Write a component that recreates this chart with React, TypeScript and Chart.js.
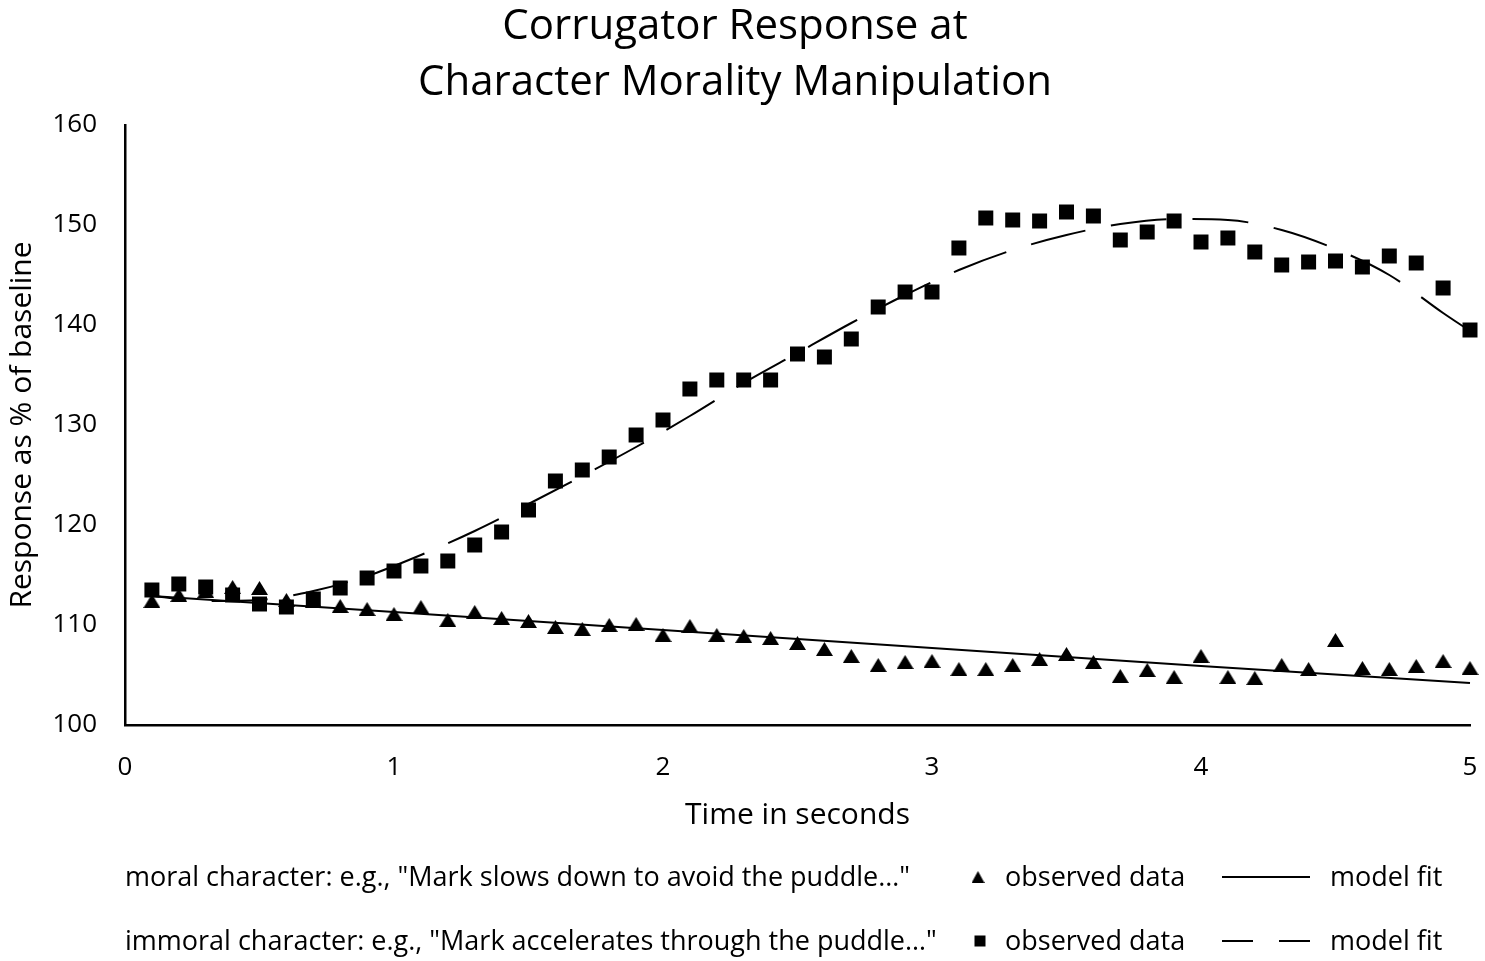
import { useEffect, useRef } from "react"
import Chart from "chart.js/auto"

// observed samples, every 0.1 s
const timeSec = [
  0.1, 0.2, 0.3, 0.4, 0.5, 0.6, 0.7, 0.8, 0.9, 1.0,
  1.1, 1.2, 1.3, 1.4, 1.5, 1.6, 1.7, 1.8, 1.9, 2.0,
  2.1, 2.2, 2.3, 2.4, 2.5, 2.6, 2.7, 2.8, 2.9, 3.0,
  3.1, 3.2, 3.3, 3.4, 3.5, 3.6, 3.7, 3.8, 3.9, 4.0,
  4.1, 4.2, 4.3, 4.4, 4.5, 4.6, 4.7, 4.8, 4.9, 5.0,
]

const moralObserved = [
  112.4, 113.0, 113.4, 113.8, 113.7, 112.5, 112.4, 111.9, 111.6, 111.1,
  111.8, 110.5, 111.3, 110.7, 110.4, 109.8, 109.6, 110.0, 110.1, 109.0,
  109.9, 109.0, 108.9, 108.7, 108.2, 107.6, 106.9, 106.0, 106.3, 106.4,
  105.6, 105.6, 106.0, 106.6, 107.1, 106.3, 104.9, 105.5, 104.8, 106.9,
  104.8, 104.7, 106.0, 105.6, 108.5, 105.7, 105.6, 105.9, 106.4, 105.7,
]

const immoralObserved = [
  113.5, 114.1, 113.8, 113.0, 112.1, 111.8, 112.6, 113.7, 114.7, 115.4,
  115.9, 116.4, 118.0, 119.3, 121.5, 124.4, 125.5, 126.8, 129.0, 130.5,
  133.6, 134.5, 134.5, 134.5, 137.1, 136.8, 138.6, 141.8, 143.3, 143.3,
  147.7, 150.7, 150.5, 150.4, 151.3, 150.9, 148.5, 149.3, 150.4, 148.3,
  148.7, 147.3, 146.0, 146.3, 146.4, 145.8, 146.9, 146.2, 143.7, 139.5,
]

// model fits
const moralFitTime = [0.1, 1, 2, 3, 4, 5]
const moralFit = [112.9, 111.3, 109.5, 107.7, 105.9, 104.2]

const immoralFitTime = [
  0.1, 0.3, 0.5, 0.7, 0.9, 1.1, 1.3, 1.5, 1.7, 1.9, 2.1, 2.3, 2.5,
  2.7, 2.9, 3.1, 3.3, 3.5, 3.7, 3.9, 4.1, 4.3, 4.5, 4.7, 4.9, 5.0,
]
const immoralFit = [
  112.9, 112.4, 112.5, 113.4, 114.9, 117.0, 119.4, 122.1, 124.9, 127.8, 130.9, 134.2, 137.2,
  140.2, 143.0, 145.5, 147.5, 149.0, 150.1, 150.6, 150.5, 149.5, 147.6, 145.0, 141.2, 139.4,
]

const xTickValues = [0, 1, 2, 3, 4, 5]
const yTickValues = [100, 110, 120, 130, 140, 150, 160]

const titleLines = ["Corrugator Response at", "Character Morality Manipulation"]
const legendGroups = [
  'moral character: e.g., "Mark slows down to avoid the puddle…"',
  'immoral character: e.g., "Mark accelerates through the puddle…"',
]
const observedLabel = "observed data"
const fitLabel = "model fit"

const FONT = "'Open Sans', sans-serif"

function makeTriangle(w: number, h: number) {
  const c = document.createElement("canvas")
  c.width = w
  c.height = h
  const g = c.getContext("2d")!
  g.fillStyle = "#000"
  g.beginPath()
  g.moveTo(w / 2, 0)
  g.lineTo(w, h)
  g.lineTo(0, h)
  g.closePath()
  g.fill()
  return c
}

export default function App() {
  const canvasRef = useRef<HTMLCanvasElement>(null)

  useEffect(() => {
    document.body.style.margin = "0"
    if (!canvasRef.current) return

    const tri = makeTriangle(17, 14)
    const legendTri = makeTriangle(13, 12)

    const overlay = {
      id: "overlay",
      afterDraw(chart: Chart) {
        const ctx = chart.ctx
        ctx.save()
        ctx.fillStyle = "#000"
        ctx.strokeStyle = "#000"

        // title
        ctx.textAlign = "center"
        ctx.textBaseline = "alphabetic"
        ctx.font = `42px ${FONT}`
        titleLines.forEach((t, i) => ctx.fillText(t, 735, 39 + i * 56))

        // legend rows
        ctx.font = `27px ${FONT}`
        ctx.textAlign = "left"
        legendGroups.forEach((g, i) => {
          const y = 886 + i * 64
          ctx.fillText(g, 125, y)
          ctx.fillText(observedLabel, 1005, y)
          ctx.fillText(fitLabel, 1330, y)
          const my = y - 9
          if (i === 0) {
            ctx.drawImage(legendTri, 978 - 6.5, my - 6, 13, 12)
            ctx.lineWidth = 2
            ctx.beginPath()
            ctx.moveTo(1222, my)
            ctx.lineTo(1310, my)
            ctx.stroke()
          } else {
            ctx.fillRect(980 - 5.5, my - 5.5, 11, 11)
            ctx.lineWidth = 2
            ctx.beginPath()
            ctx.moveTo(1222, my)
            ctx.lineTo(1253, my)
            ctx.moveTo(1279, my)
            ctx.lineTo(1310, my)
            ctx.stroke()
          }
        })
        ctx.restore()
      },
    }

    const chart = new Chart(canvasRef.current, {
      type: "scatter",
      data: {
        datasets: [
          {
            label: "moral observed",
            data: timeSec.map((t, i) => ({ x: t, y: moralObserved[i] })),
            pointStyle: tri,
            pointRadius: 9,
            backgroundColor: "#000",
            borderColor: "#000",
            showLine: false,
            clip: false,
          },
          {
            label: "immoral observed",
            data: timeSec.map((t, i) => ({ x: t, y: immoralObserved[i] })),
            pointStyle: "rect",
            pointRadius: 10.6,
            borderWidth: 0,
            backgroundColor: "#000",
            borderColor: "#000",
            showLine: false,
            clip: false,
          },
          {
            label: "moral fit",
            data: moralFitTime.map((t, i) => ({ x: t, y: moralFit[i] })),
            showLine: true,
            pointRadius: 0,
            borderColor: "#000",
            borderWidth: 2,
            clip: false,
          },
          {
            label: "immoral fit",
            data: immoralFitTime.map((t, i) => ({ x: t, y: immoralFit[i] })),
            showLine: true,
            pointRadius: 0,
            borderColor: "#000",
            borderWidth: 2,
            borderDash: [56, 26],
            borderDashOffset: 22,
            cubicInterpolationMode: "monotone",
            clip: false,
          },
        ],
      },
      options: {
        responsive: true,
        maintainAspectRatio: false,
        animation: false,
        layout: { padding: { top: 125, left: 0, right: 15, bottom: 124 } },
        plugins: {
          legend: { display: false },
          title: { display: false },
          tooltip: { enabled: false },
        },
        scales: {
          x: {
            type: "linear",
            min: 0,
            max: 5,
            afterBuildTicks: (s: any) => {
              s.ticks = xTickValues.map((v) => ({ value: v }))
            },
            afterFit: (s: any) => {
              s.height = 112
              s.paddingLeft = 0
              s.paddingRight = 0
            },
            grid: { display: false, drawTicks: false },
            border: { display: true, color: "#000", width: 2.5 },
            ticks: { color: "#000", font: { family: FONT, size: 26 }, padding: 27, maxRotation: 0 },
            title: {
              display: true,
              text: "Time in seconds",
              color: "#000",
              font: { family: FONT, size: 30 },
              padding: { top: 4, bottom: 4 },
            },
          },
          y: {
            type: "linear",
            min: 100,
            max: 160,
            afterBuildTicks: (s: any) => {
              s.ticks = yTickValues.map((v) => ({ value: v }))
            },
            afterFit: (s: any) => {
              s.width = 125
              s.paddingTop = 0
              s.paddingBottom = 0
            },
            grid: { display: false, drawTicks: false },
            border: { display: true, color: "#000", width: 2.5 },
            ticks: { color: "#000", font: { family: FONT, size: 26 }, padding: 28 },
            title: {
              display: true,
              text: "Response as % of baseline",
              color: "#000",
              font: { family: FONT, size: 30 },
              padding: { top: 4, bottom: 4 },
            },
          },
        },
      },
      plugins: [overlay],
    })

    return () => chart.destroy()
  }, [])

  return (
    <div style={{ position: "relative", width: 1485, height: 961, background: "#fff" }}>
      <canvas ref={canvasRef} />
    </div>
  )
}
